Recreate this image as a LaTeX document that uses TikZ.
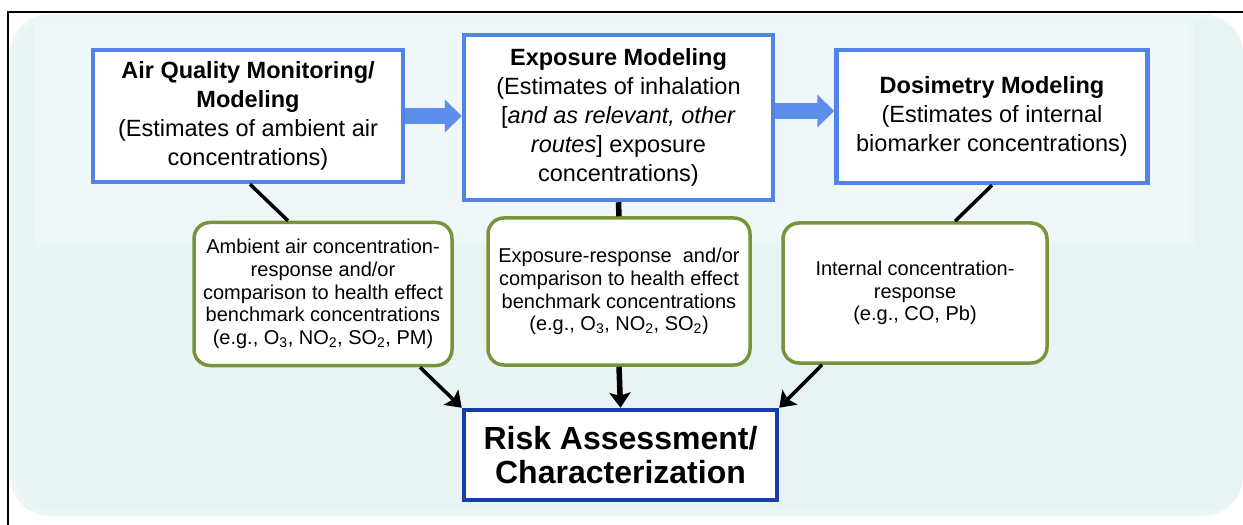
\documentclass[tikz,border=0pt]{standalone}
\usepackage{fontspec}
\setmainfont{Liberation Sans}
\usetikzlibrary{arrows.meta,calc}
\definecolor{bgc}{RGB}{232,243,244}
\definecolor{bgm}{RGB}{237,246,247}
\definecolor{bgl}{RGB}{240,247,249}
\definecolor{boxblue}{RGB}{82,132,232}
\definecolor{arrblue}{RGB}{92,142,236}
\definecolor{riskblue}{RGB}{22,62,165}
\definecolor{olive}{RGB}{119,147,60}
\begin{document}
\begin{tikzpicture}[x=1bp,y=-1bp,
  topbox/.style={draw=boxblue,line width=4.5bp,fill=white,align=center,inner sep=2bp,
    font=\fontsize{23.5bp}{29bp}\selectfont},
  greenbox/.style={draw=olive,line width=3.5bp,fill=white,rounded corners=16bp,align=center,inner sep=2bp,
    font=\fontsize{20bp}{22.8bp}\selectfont},
  riskbox/.style={draw=riskblue,line width=4.5bp,fill=white,align=center,inner sep=2bp,
    font=\fontsize{32bp}{34bp}\selectfont\bfseries},
  link/.style={line width=3.5bp,black},
  vlink/.style={line width=5.5bp,black},
  tip/.style={-{Stealth[length=15bp,width=21bp,inset=3bp]}},
  bigarrow/.style={arrblue,line width=16bp,-{Triangle[length=17bp,width=32bp]}}
]
\useasboundingbox (0,0) rectangle (1243,525);
% soft background
\fill[bgm] (10,14) [rounded corners=40bp] rectangle (1243,516);
\fill[bgc] (16,20) [rounded corners=34bp] rectangle (1243,510);
\fill[bgm] (34,20) rectangle (1194,246);
\fill[bgl] (40,24) rectangle (1188,240);
% frame
\draw[line width=2.5bp,black] (1243,12) -- (8,12) -- (8,525);

% top boxes
\node[topbox,minimum width=310bp,minimum height=132bp] (box1) at (248,116)
  {\textbf{Air Quality Monitoring/}\\\textbf{Modeling}\\(Estimates of ambient air\\concentrations)};
\node[topbox,minimum width=309bp,minimum height=165bp] (box2) at (618.5,117.5)
  {\textbf{Exposure Modeling}\\(Estimates of inhalation\\{}[\textit{and as relevant, other}\\\textit{routes}] exposure\\concentrations)};
\node[topbox,minimum width=311bp,minimum height=133bp] (box3) at (992,116.5)
  {\textbf{Dosimetry Modeling}\\(Estimates of internal\\biomarker concentrations)};

% green boxes
\node[greenbox,minimum width=258bp,minimum height=143bp] (g1) at (323,294)
  {Ambient air concentration-\\response and/or\\comparison to health effect\\benchmark concentrations\\(e.g., O\textsubscript{3}, NO\textsubscript{2}, SO\textsubscript{2}, PM)};
\node[greenbox,minimum width=262bp,minimum height=147bp] (g2) at (619,291.5)
  {Exposure-response\ \ and/or\\comparison to health effect\\benchmark concentrations\\(e.g., O\textsubscript{3}, NO\textsubscript{2}, SO\textsubscript{2})};
\node[greenbox,minimum width=264bp,minimum height=140bp] (g3) at (915,293)
  {Internal concentration-\\response\\(e.g., CO, Pb)};

% risk box
\node[riskbox,minimum width=313bp,minimum height=90bp] (risk) at (620.5,455)
  {Risk Assessment/\\Characterization};

% big blue arrows
\draw[bigarrow] (box1.east) -- (box1.east -| box2.west);
\draw[bigarrow] ([yshift=6.5bp]box2.east) -- ([yshift=6.5bp]box2.east -| box3.west);

% connectors top -> green
\draw[link] ($(box1.south)+(2,0)$) -- ($(g1.north)+(-35,0)$);
\draw[vlink] (box2.south) -- (g2.north);
\draw[link] (box3.south) -- ($(g3.north)+(40,0)$);

% connectors green -> risk
\draw[link,tip] ($(g1.south)+(97,0)$) -- (risk.north west);
\draw[vlink,tip] (g2.south) -- (risk.north);
\draw[link,tip] ($(g3.south)+(-93,0)$) -- (risk.north east);
\end{tikzpicture}
\end{document}
